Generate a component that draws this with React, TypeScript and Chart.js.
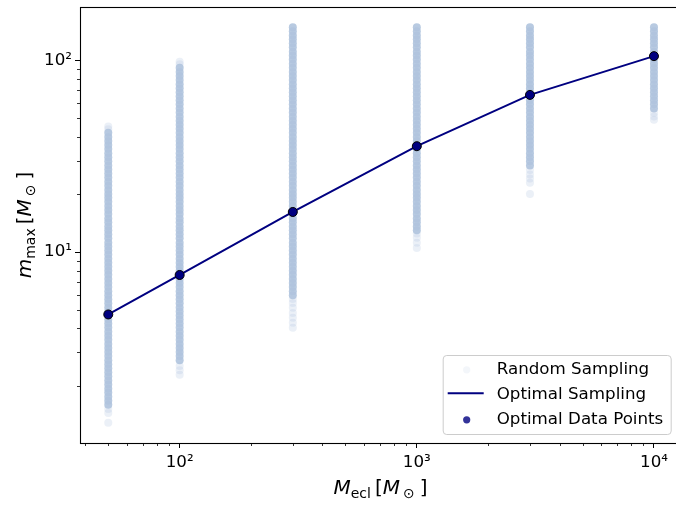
import React, { useEffect, useRef } from 'react';
import { Chart, registerables } from 'chart.js';

Chart.register(...registerables);

// ---------------- data ----------------
const CLUSTER_MASSES = [50, 100, 300, 1000, 3000, 10000];
const OPTIMAL_MMAX = [4.73, 7.6, 16.2, 35.7, 66.1, 105.3];

// random-sampling m_max values (dense part)
const RANDOM_50 = [1.6, 1.68, 1.76, 1.85, 1.94, 2.04, 2.14, 2.25, 2.36, 2.48, 2.6, 2.73, 2.87, 3.01, 3.16, 3.32, 3.49, 3.66, 3.84, 4.04, 4.24, 4.45, 4.67, 4.9, 5.15, 5.41, 5.68, 5.96, 6.26, 6.57, 6.9, 7.24, 7.61, 7.99, 8.39, 8.8, 9.24, 9.71, 10.2, 10.7, 11.2, 11.8, 12.4, 13.0, 13.6, 14.3, 15.0, 15.8, 16.6, 17.4, 18.3, 19.2, 20.1, 21.1, 22.2, 23.3, 24.5, 25.7, 27.0, 28.3, 29.8, 31.3, 32.8, 34.5, 36.2, 38.0, 39.9, 41.9];
const RANDOM_100 = [2.73, 2.87, 3.01, 3.16, 3.32, 3.49, 3.66, 3.84, 4.04, 4.24, 4.45, 4.67, 4.9, 5.15, 5.41, 5.68, 5.96, 6.26, 6.57, 6.9, 7.24, 7.61, 7.99, 8.39, 8.8, 9.24, 9.71, 10.2, 10.7, 11.2, 11.8, 12.4, 13.0, 13.6, 14.3, 15.0, 15.8, 16.6, 17.4, 18.3, 19.2, 20.1, 21.1, 22.2, 23.3, 24.5, 25.7, 27.0, 28.3, 29.8, 31.3, 32.8, 34.5, 36.2, 38.0, 39.9, 41.9, 44.0, 46.2, 48.5, 50.9, 53.5, 56.1, 59.0, 61.9, 65.0, 68.3, 71.7, 75.2, 79.0, 83.0, 87.1, 91.5];
const RANDOM_300 = [5.96, 6.26, 6.57, 6.9, 7.24, 7.61, 7.99, 8.39, 8.8, 9.24, 9.71, 10.2, 10.7, 11.2, 11.8, 12.4, 13.0, 13.6, 14.3, 15.0, 15.8, 16.6, 17.4, 18.3, 19.2, 20.1, 21.1, 22.2, 23.3, 24.5, 25.7, 27.0, 28.3, 29.8, 31.3, 32.8, 34.5, 36.2, 38.0, 39.9, 41.9, 44.0, 46.2, 48.5, 50.9, 53.5, 56.1, 59.0, 61.9, 65.0, 68.3, 71.7, 75.2, 79.0, 83.0, 87.1, 91.5, 96.0, 101, 106, 111, 117, 123, 129, 135, 142, 149];
const RANDOM_1000 = [13.0, 13.6, 14.3, 15.0, 15.8, 16.6, 17.4, 18.3, 19.2, 20.1, 21.1, 22.2, 23.3, 24.5, 25.7, 27.0, 28.3, 29.8, 31.3, 32.8, 34.5, 36.2, 38.0, 39.9, 41.9, 44.0, 46.2, 48.5, 50.9, 53.5, 56.1, 59.0, 61.9, 65.0, 68.3, 71.7, 75.2, 79.0, 83.0, 87.1, 91.5, 96.0, 101, 106, 111, 117, 123, 129, 135, 142, 149];
const RANDOM_3000 = [28.3, 29.8, 31.3, 32.8, 34.5, 36.2, 38.0, 39.9, 41.9, 44.0, 46.2, 48.5, 50.9, 53.5, 56.1, 59.0, 61.9, 65.0, 68.3, 71.7, 75.2, 79.0, 83.0, 87.1, 91.5, 96.0, 101, 106, 111, 117, 123, 129, 135, 142, 149];
const RANDOM_10000 = [56.1, 59.0, 61.9, 65.0, 68.3, 71.7, 75.2, 79.0, 83.0, 87.1, 91.5, 96.0, 101, 106, 111, 117, 123, 129, 135, 142, 149];

// sparse (isolated, faint) outliers at the column ends
const SPARSE_50 = [1.29, 1.45, 1.52, 43.8, 45.2];
const SPARSE_100 = [2.29, 2.42, 2.55, 95.5, 98.5];
const SPARSE_300 = [4.03, 4.28, 4.54, 4.82, 5.12, 5.43, 5.7];
const SPARSE_1000 = [10.5, 11.2, 11.9, 12.5];
const SPARSE_3000 = [20.1, 23.0, 24.2, 25.4, 26.8];
const SPARSE_10000 = [49.0, 51.0, 53.3];

const RANDOM_COLUMNS = [RANDOM_50, RANDOM_100, RANDOM_300, RANDOM_1000, RANDOM_3000, RANDOM_10000];
const SPARSE_COLUMNS = [SPARSE_50, SPARSE_100, SPARSE_300, SPARSE_1000, SPARSE_3000, SPARSE_10000];

const LEGEND_LABELS = ['Random Sampling', 'Optimal Sampling', 'Optimal Data Points'];

const X_MAJOR_TICKS = [100, 1000, 10000];
const X_TICK_LABELS = ['10\u00B2', '10\u00B3', '10\u2074'];
const X_MINOR_TICKS = [40, 50, 60, 70, 80, 90, 200, 300, 400, 500, 600, 700, 800, 900, 2000, 3000, 4000, 5000, 6000, 7000, 8000, 9000];
const Y_MAJOR_TICKS = [10, 100];
const Y_TICK_LABELS = ['10\u00B9', '10\u00B2'];
const Y_MINOR_TICKS = [2, 3, 4, 5, 6, 7, 8, 9, 20, 30, 40, 50, 60, 70, 80, 90];

const X_MIN = 38;
const X_MAX = 13000;
const Y_MIN = 1.01;
const Y_MAX = 190;

// ---------------- styles ----------------
const FONT = '"DejaVu Sans", "Liberation Sans", sans-serif';
const STEEL = (a: number) => `rgba(176,196,222,${a})`;
const NAVY = '#000080';

type Seg = { t: string; f: string; dy?: number; gap?: number };

function segWidth(ctx: CanvasRenderingContext2D, segs: Seg[]) {
  let w = 0;
  for (const s of segs) {
    ctx.font = s.f;
    w += (s.gap || 0) + ctx.measureText(s.t).width;
  }
  return w;
}

function drawSegs(ctx: CanvasRenderingContext2D, segs: Seg[], cx: number, base: number) {
  let x = cx - segWidth(ctx, segs) / 2;
  ctx.textAlign = 'left';
  ctx.textBaseline = 'alphabetic';
  for (const s of segs) {
    x += s.gap || 0;
    ctx.font = s.f;
    ctx.fillText(s.t, x, base + (s.dy || 0));
    x += ctx.measureText(s.t).width;
  }
}

const BIG = `20px ${FONT}`;
const BIG_IT = `italic 20px ${FONT}`;
const SUB = `14px ${FONT}`;

const X_TITLE: Seg[] = [
  { t: 'M', f: BIG_IT },
  { t: 'ecl', f: SUB, dy: 3.5 },
  { t: '[', f: BIG, gap: 4 },
  { t: 'M', f: BIG_IT },
  { t: '\u2299', f: SUB, dy: 3.5, gap: 3 },
  { t: ']', f: BIG, gap: 5 },
];
const Y_TITLE: Seg[] = [
  { t: 'm', f: BIG_IT },
  { t: 'max', f: SUB, dy: 3.5 },
  { t: '[', f: BIG, gap: 4 },
  { t: 'M', f: BIG_IT },
  { t: '\u2299', f: SUB, dy: 3.5, gap: 3 },
  { t: ']', f: BIG, gap: 5 },
];

const decorPlugin = {
  id: 'decor',
  afterDraw(chart: any) {
    const { ctx, chartArea: ca, scales } = chart;
    ctx.save();
    // minor ticks
    ctx.strokeStyle = '#000';
    ctx.lineWidth = 0.8;
    ctx.beginPath();
    for (const t of scales.x.ticks) {
      if (t.major) continue;
      const px = Math.round(scales.x.getPixelForValue(t.value)) + 0.5;
      ctx.moveTo(px, ca.bottom);
      ctx.lineTo(px, ca.bottom + 3);
    }
    for (const t of scales.y.ticks) {
      if (t.major) continue;
      const py = Math.round(scales.y.getPixelForValue(t.value)) + 0.5;
      ctx.moveTo(ca.left, py);
      ctx.lineTo(ca.left - 3, py);
    }
    ctx.stroke();

    // frame (spines)
    ctx.lineWidth = 1.1;
    ctx.strokeStyle = '#000';
    ctx.strokeRect(Math.round(ca.left) + 0.5, Math.round(ca.top) + 0.5, Math.round(ca.right - ca.left), Math.round(ca.bottom - ca.top));

    // legend
    const bw = 228;
    const bh = 79;
    const bx = ca.right - 10.3 - bw;
    const by = ca.bottom - 9 - bh;
    ctx.beginPath();
    if ((ctx as any).roundRect) (ctx as any).roundRect(bx + 0.5, by + 0.5, bw, bh, 3.5);
    else ctx.rect(bx + 0.5, by + 0.5, bw, bh);
    ctx.fillStyle = 'rgba(255,255,255,0.8)';
    ctx.fill();
    ctx.strokeStyle = '#cccccc';
    ctx.lineWidth = 1;
    ctx.stroke();

    const bases = [by + 19.3, by + 44.3, by + 69.3];
    ctx.font = `16.7px ${FONT}`;
    ctx.fillStyle = '#000';
    ctx.textAlign = 'left';
    ctx.textBaseline = 'alphabetic';
    LEGEND_LABELS.forEach((lab, i) => ctx.fillText(lab, bx + 54, bases[i]));
    // markers
    ctx.beginPath();
    ctx.arc(bx + 24, bases[0] - 4.5, 3.6, 0, Math.PI * 2);
    ctx.fillStyle = STEEL(0.15);
    ctx.fill();
    ctx.beginPath();
    ctx.moveTo(bx + 5, bases[1] - 6);
    ctx.lineTo(bx + 41, bases[1] - 6);
    ctx.strokeStyle = NAVY;
    ctx.lineWidth = 2;
    ctx.stroke();
    ctx.beginPath();
    ctx.arc(bx + 24, bases[2] - 4.5, 3.6, 0, Math.PI * 2);
    ctx.fillStyle = '#333399';
    ctx.fill();

    // axis titles
    ctx.fillStyle = '#000';
    drawSegs(ctx, X_TITLE, (ca.left + ca.right) / 2, 494);
    ctx.save();
    ctx.translate(31, (ca.top + ca.bottom) / 2);
    ctx.rotate(-Math.PI / 2);
    drawSegs(ctx, Y_TITLE, 0, 0);
    ctx.restore();

    ctx.restore();
  },
};

function makeTicks(majors: number[], minors: number[]) {
  return (scale: any) => {
    scale.ticks = [
      ...majors.map((v) => ({ value: v, major: true })),
      ...minors.map((v) => ({ value: v, major: false })),
    ].sort((a, b) => a.value - b.value);
  };
}

export default function App() {
  const ref = useRef<HTMLCanvasElement>(null);

  useEffect(() => {
    document.body.style.margin = '0';
    const randomCore = CLUSTER_MASSES.flatMap((m, i) => RANDOM_COLUMNS[i].map((y) => ({ x: m, y })));
    const randomSparse = CLUSTER_MASSES.flatMap((m, i) => SPARSE_COLUMNS[i].map((y) => ({ x: m, y })));
    const optimal = CLUSTER_MASSES.map((m, i) => ({ x: m, y: OPTIMAL_MMAX[i] }));

    const chart = new Chart(ref.current as HTMLCanvasElement, {
      type: 'scatter',
      data: {
        datasets: [
          {
            label: LEGEND_LABELS[2],
            data: optimal,
            pointRadius: 4.5,
            pointBackgroundColor: NAVY,
            pointBorderColor: '#000',
            pointBorderWidth: 1,
            showLine: false,
            order: 0,
          },
          {
            label: LEGEND_LABELS[1],
            data: optimal,
            showLine: true,
            borderColor: NAVY,
            borderWidth: 2,
            pointRadius: 0,
            tension: 0,
            order: 1,
          },
          {
            label: LEGEND_LABELS[0],
            data: randomCore,
            pointRadius: 4,
            pointBorderWidth: 0,
            pointBackgroundColor: STEEL(0.9),
            showLine: false,
            order: 2,
          },
          {
            label: LEGEND_LABELS[0],
            data: randomSparse,
            pointRadius: 4,
            pointBorderWidth: 0,
            pointBackgroundColor: STEEL(0.25),
            showLine: false,
            order: 3,
          },
        ],
      } as any,
      options: {
        animation: false,
        responsive: false,
        devicePixelRatio: 1,
        events: [],
        layout: { padding: { top: 7, right: 9, left: 0, bottom: 0 } },
        plugins: { legend: { display: false }, tooltip: { enabled: false } },
        scales: {
          x: {
            type: 'logarithmic',
            min: X_MIN,
            max: X_MAX,
            afterBuildTicks: makeTicks(X_MAJOR_TICKS, X_MINOR_TICKS),
            afterFit: (s: any) => {
              s.height = 62;
              s.paddingLeft = 0;
              s.paddingRight = 0;
            },
            border: { display: false },
            grid: {
              drawOnChartArea: false,
              drawTicks: true,
              tickLength: 5,
              lineWidth: 1,
              tickWidth: 1,
              tickColor: (c: any) => (c.tick && c.tick.major ? '#000' : 'rgba(0,0,0,0)'),
            },
            ticks: {
              autoSkip: false,
              maxRotation: 0,
              padding: 5,
              color: '#000',
              font: { family: FONT, size: 16.7 },
              callback: (v: any) => {
                const i = X_MAJOR_TICKS.indexOf(Number(v));
                return i >= 0 ? X_TICK_LABELS[i] : '';
              },
            },
          },
          y: {
            type: 'logarithmic',
            min: Y_MIN,
            max: Y_MAX,
            afterBuildTicks: makeTicks(Y_MAJOR_TICKS, Y_MINOR_TICKS),
            afterFit: (s: any) => {
              s.width = 80;
              s.paddingTop = 0;
              s.paddingBottom = 0;
            },
            border: { display: false },
            grid: {
              drawOnChartArea: false,
              drawTicks: true,
              tickLength: 5,
              lineWidth: 1,
              tickWidth: 1,
              tickColor: (c: any) => (c.tick && c.tick.major ? '#000' : 'rgba(0,0,0,0)'),
            },
            ticks: {
              autoSkip: false,
              padding: 3,
              color: '#000',
              font: { family: FONT, size: 16.7 },
              callback: (v: any) => {
                const i = Y_MAJOR_TICKS.indexOf(Number(v));
                return i >= 0 ? Y_TICK_LABELS[i] : '';
              },
            },
          },
        },
      } as any,
      plugins: [decorPlugin],
    });
    return () => chart.destroy();
  }, []);

  return (
    <div style={{ width: 676, height: 505, overflow: 'hidden', position: 'relative' }}>
      <canvas ref={ref} width={690} height={505} style={{ display: 'block' }} />
    </div>
  );
}
